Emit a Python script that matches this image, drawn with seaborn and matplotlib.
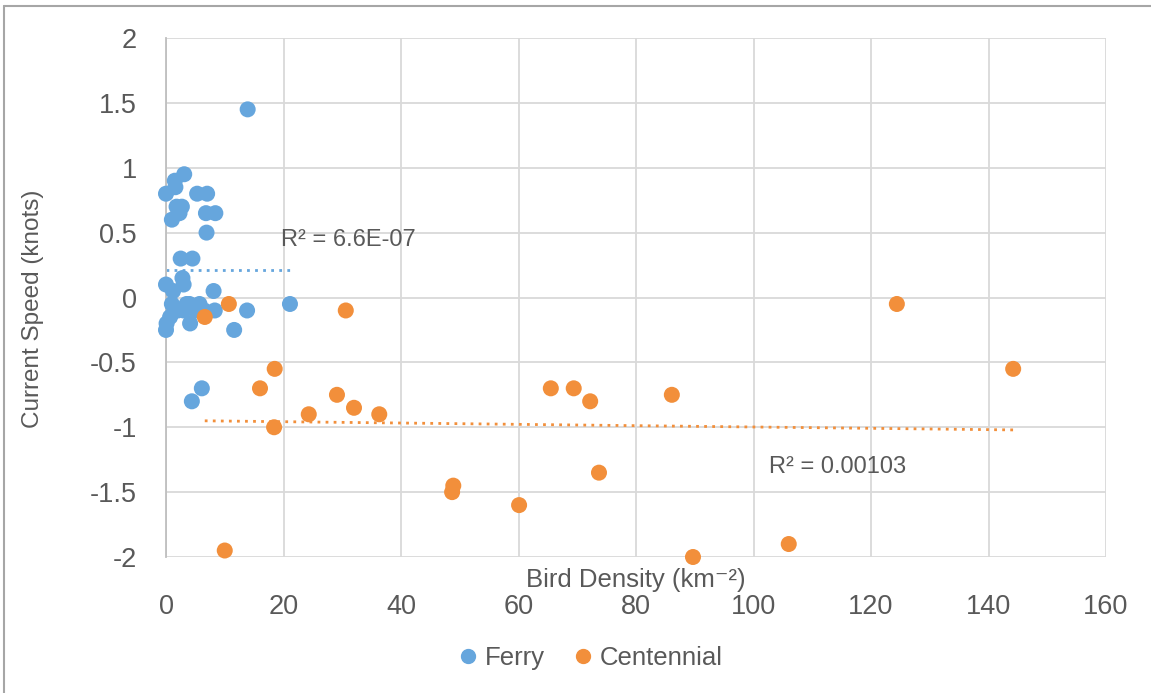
import numpy as np
import pandas as pd
import matplotlib
matplotlib.use("Agg")
import matplotlib.pyplot as plt
import seaborn as sns
from matplotlib.lines import Line2D

# Ferry (blue) points
ferry_x = [13.9, 3.1, 1.5, 1.6, 0.0, 5.3, 7.0, 2.7, 1.8, 2.3, 1.0, 6.8, 8.4, 6.9,
           2.5, 4.5, 0.0, 2.8, 3.0, 8.1, 1.2, 1.0, 4.0, 5.7, 8.3, 13.8, 21.1,
           0.1, 0.0, 0.7, 4.1, 11.6, 6.1, 4.4, 3.0, 2.0, 3.5, 5.0, 6.5]
ferry_y = [1.45, 0.95, 0.9, 0.85, 0.8, 0.8, 0.8, 0.7, 0.7, 0.65, 0.6, 0.65, 0.65, 0.5,
           0.3, 0.3, 0.1, 0.15, 0.1, 0.05, 0.05, -0.05, -0.05, -0.05, -0.1, -0.1, -0.05,
           -0.2, -0.25, -0.15, -0.2, -0.25, -0.7, -0.8, -0.1, -0.1, -0.05, -0.1, -0.1]

# Centennial (orange) points
cent_x = [10.7, 6.6, 18.5, 16.0, 18.4, 10.0, 24.3, 29.1, 30.6, 32.0, 36.3, 48.9, 48.7,
          60.1, 65.5, 69.4, 72.2, 73.7, 86.1, 89.7, 106.0, 124.4, 144.2]
cent_y = [-0.05, -0.15, -0.55, -0.7, -1.0, -1.95, -0.9, -0.75, -0.1, -0.85, -0.9, -1.45, -1.5,
          -1.6, -0.7, -0.7, -0.8, -1.35, -0.75, -2.0, -1.9, -0.05, -0.55]

# linear trendlines as shown on the chart (slope, intercept)
ferry_trend = [0.0, 0.212]
cent_trend = [-0.00051, -0.947]
r2_labels = ["R² = 6.6E-07", "R² = 0.00103"]

blue = "#66A6DD"
orange = "#F28F3B"
text_col = "#595959"

df = pd.concat([
    pd.DataFrame({"x": ferry_x, "y": ferry_y, "site": "Ferry"}),
    pd.DataFrame({"x": cent_x, "y": cent_y, "site": "Centennial"}),
])

sns.set_theme(style="white")
plt.rcParams["font.family"] = ["Liberation Sans", "DejaVu Sans"]

fig = plt.figure(figsize=(11.51, 6.93), dpi=100)
ax = fig.add_axes([166 / 1151, 1 - 557 / 693, (1106 - 166) / 1151, (557 - 38) / 693])

sns.scatterplot(data=df, x="x", y="y", hue="site", palette={"Ferry": blue, "Centennial": orange},
                s=133, edgecolor=None, linewidth=0, legend=False, ax=ax, zorder=3)
for coll in ax.collections:
    coll.set_clip_on(False)

for xs, (m, b), col in [(ferry_x, ferry_trend, blue), (cent_x, cent_trend, orange)]:
    xx = np.array([min(xs), max(xs)])
    ax.plot(xx, m * xx + b, linestyle=(0, (1, 1.9)), color=col, lw=2, zorder=2)

ax.text(19.6, 0.44, r2_labels[0], fontsize=17, color=text_col, ha="left", va="center")
ax.text(102.6, -1.306, r2_labels[1], fontsize=17, color=text_col, ha="left", va="center")

ax.set_xlim(0, 160)
ax.set_ylim(-2, 2)
ax.set_xticks(np.arange(0, 161, 20))
ax.set_yticks(np.arange(-2, 2.01, 0.5))
ax.set_yticklabels([f"{v:g}" for v in np.arange(-2, 2.01, 0.5)])
ax.grid(True, color="#D9D9D9", lw=1.3)
ax.set_axisbelow(True)
for s in ["top", "right", "bottom"]:
    ax.spines[s].set_visible(False)
ax.spines["left"].set_color("#BFBFBF")
ax.spines["left"].set_linewidth(1.3)
ax.tick_params(axis="x", length=0, pad=27, labelsize=19.5, labelcolor=text_col)
ax.tick_params(axis="y", length=0, pad=21, labelsize=19.5, labelcolor=text_col)

ax.set_xlabel("Bird Density (km⁻²)", fontsize=18.5, color=text_col)
ax.xaxis.set_label_coords(0.5, -0.022)
ax.xaxis.label.set_va("top")
ax.set_ylabel("Current Speed (knots)", fontsize=17.5, color=text_col)
ax.yaxis.set_label_coords(-0.13, 0.478)

handles = [Line2D([], [], marker="o", ls="", color=blue, markersize=10),
           Line2D([], [], marker="o", ls="", color=orange, markersize=10)]
fig.legend(handles, ["Ferry", "Centennial"], loc="center", bbox_to_anchor=(588 / 1151, 1 - 658 / 693),
           ncol=2, frameon=False, fontsize=18.5, labelcolor=text_col, handletextpad=0.05,
           columnspacing=0.9, handlelength=1.2)

# chart area border (top and left edges visible)
fig.add_artist(Line2D([4 / 1151, 4 / 1151], [0, 1 - 6 / 693], transform=fig.transFigure,
                      color="#A6A6A6", lw=1.5))
fig.add_artist(Line2D([4 / 1151, 1], [1 - 6 / 693, 1 - 6 / 693], transform=fig.transFigure,
                      color="#A6A6A6", lw=1.5))

fig.savefig("out.png", dpi=100)
